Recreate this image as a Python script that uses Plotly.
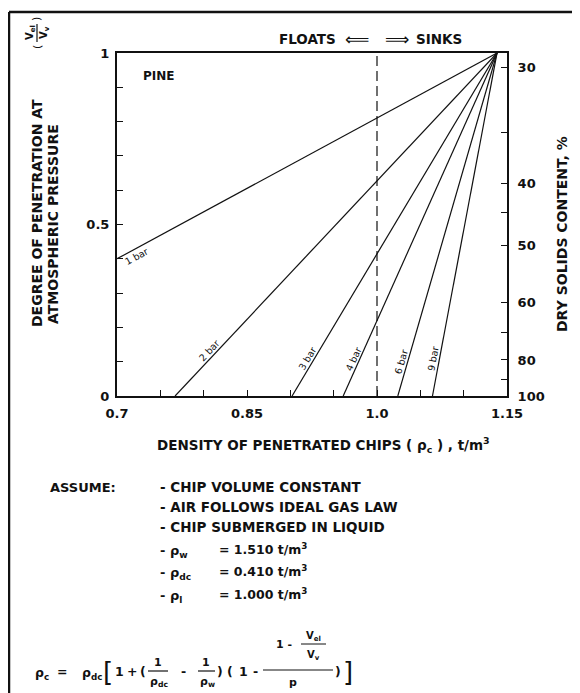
import math
import plotly.graph_objects as go

# ---------------- data ----------------
pressure_labels = ["1 bar", "2 bar", "3 bar", "4 bar", "6 bar", "9 bar"]
line_start_density = [0.700, 0.767, 0.902, 0.961, 1.024, 1.064]
line_start_penetration = [0.40, 0.0, 0.0, 0.0, 0.0, 0.0]
line_end_density = 1.1385
line_end_penetration = 1.0
label_penetration = [0.425, 0.12, 0.10, 0.10, 0.095, 0.105]
label_side = [-7, 6, 6, 6, 6, 6]  # pixel offset of each label from its line (+ = upper-left)

float_sink_density = 1.0

x_tick_values = [0.70, 0.75, 0.80, 0.85, 0.90, 0.95, 1.00, 1.05, 1.10, 1.15]
x_tick_text = ["0.7", "", "", "0.85", "", "", "1.0", "", "", "1.15"]
y_tick_values = [0.0, 0.1, 0.2, 0.3, 0.4, 0.5, 0.6, 0.7, 0.8, 0.9, 1.0]
y_tick_text = ["0", "", "", "", "", "0.5", "", "", "", "", "1"]
dry_solids_positions = [0.959, 0.767, 0.621, 0.536, 0.440, 0.274, 0.184, 0.105, 0.047, 0.0]
dry_solids_text = ["30", "", "40", "", "50", "60", "", "80", "", "100"]

# ---------------- layout geometry (page pixels) ----------------
PAGE_W, PAGE_H = 580, 693
BODY = 8  # default page margin around the plot div
W, H = PAGE_W - BODY, PAGE_H - BODY
PL, PR, PT, PB = 117, 507, 53, 396
FONT = "DejaVu Sans"
INK = "#111111"
X0, X1 = 0.70, 1.15


def px(x):
    return (x - PL) / (PR - PL)


def py(y):
    return (PB - y) / (PB - PT)


annotations = []
shapes = []


def note(x, y, text, size=12, xanchor="center", yanchor="middle", angle=0, weight="bold"):
    annotations.append(dict(
        x=px(x), y=py(y), xref="paper", yref="paper", text=text, showarrow=False,
        xanchor=xanchor, yanchor=yanchor, textangle=angle,
        font=dict(family=FONT, size=size, color=INK, weight=weight)))


def seg(x0, y0, x1, y1, width=1.2):
    shapes.append(dict(type="line", xref="paper", yref="paper",
                       x0=px(x0), y0=py(y0), x1=px(x1), y1=py(y1),
                       line=dict(color=INK, width=width), layer="above"))


fig = go.Figure()

x_scale = (PR - PL) / (X1 - X0)
y_scale = (PB - PT) / 1.0

for name, xs, ys, yl, off in zip(pressure_labels, line_start_density, line_start_penetration,
                                 label_penetration, label_side):
    fig.add_trace(go.Scatter(
        x=[xs, line_end_density], y=[ys, line_end_penetration], mode="lines",
        line=dict(color=INK, width=1.2), showlegend=False, hoverinfo="skip"))
    xl = xs + (yl - ys) / (line_end_penetration - ys) * (line_end_density - xs)
    theta = math.atan2((line_end_penetration - ys) * y_scale, (line_end_density - xs) * x_scale)
    annotations.append(dict(
        x=xl, y=yl, xref="x", yref="y", text=name, showarrow=False,
        textangle=-math.degrees(theta),
        xshift=-off * math.sin(theta), yshift=off * math.cos(theta),
        font=dict(family=FONT, size=9.5, color=INK)))

fig.add_trace(go.Scatter(
    x=[float_sink_density, float_sink_density], y=[0, 1], yaxis="y2", mode="lines",
    line=dict(color=INK, width=1.2, dash="10px,5px"), showlegend=False, hoverinfo="skip"))

axis_common = dict(showgrid=False, zeroline=False, showline=True, linecolor=INK, linewidth=2,
                   ticks="inside", ticklen=6, tickwidth=1.3, tickcolor=INK,
                   tickfont=dict(family=FONT, size=13, color=INK, weight="bold"))

fig.update_layout(
    width=W, height=H, autosize=False,
    margin=dict(l=PL - BODY, r=PAGE_W - PR, t=PT - BODY, b=PAGE_H - PB, pad=0),
    paper_bgcolor="white", plot_bgcolor="white",
    xaxis=dict(range=[X0, X1], tickmode="array", tickvals=x_tick_values, ticktext=x_tick_text,
               mirror=True, ticklabelstandoff=4, **axis_common),
    yaxis=dict(range=[0, 1], tickmode="array", tickvals=y_tick_values, ticktext=y_tick_text,
               ticklabelstandoff=3, **axis_common),
    yaxis2=dict(range=[0, 1], overlaying="y", side="right", tickmode="array",
                tickvals=dry_solids_positions, ticktext=dry_solids_text,
                ticklabelstandoff=6, **axis_common),
    showlegend=False,
)

# outer frame
seg(9, 12, 580, 12, 2.5)
seg(9, 12, 9, 700, 2.5)

# top float / sink note
note(338, 39, "FLOATS", 13.5, xanchor="right")
note(357, 39, "⟸", 17, weight="normal")
note(397, 39, "⟹", 17, weight="normal")
note(414, 39, "SINKS", 13.5, xanchor="left")

note(159, 76, "PINE", 12)

# left axis title
note(37, 329, "DEGREE OF PENETRATION AT", 14, yanchor="bottom", angle=-90)
note(53, 326, "ATMOSPHERIC PRESSURE", 14, yanchor="bottom", angle=-90)
# (Vel / Vv) stacked and rotated
note(30, 33, "V<sub>el</sub>", 10, angle=-90)
note(44, 33, "V<sub>v</sub>", 10, angle=-90)
seg(37, 24, 37, 42, 1.2)
note(37, 47, "(", 11, angle=-90, weight="normal")
note(37, 19, ")", 11, angle=-90, weight="normal")

# right axis title
note(562, 234, "DRY SOLIDS CONTENT, %", 14, angle=-90)

# x axis title
note(155, 445, "DENSITY OF PENETRATED CHIPS ( ρ<sub>c</sub> ) , t/m<sup>3</sup>", 13.5, xanchor="left")

# assumptions block
note(48, 487, "ASSUME:", 13, xanchor="left")
note(158, 487, "- CHIP VOLUME CONSTANT", 13.5, xanchor="left")
note(158, 507, "- AIR FOLLOWS IDEAL GAS LAW", 13.5, xanchor="left")
note(158, 527, "- CHIP SUBMERGED IN LIQUID", 13.5, xanchor="left")
note(158, 551, "- ρ<sub>w</sub>", 13, xanchor="left")
note(217, 549, "= 1.510 t/m<sup>3</sup>", 12.5, xanchor="left")
note(158, 573, "- ρ<sub>dc</sub>", 13, xanchor="left")
note(217, 571, "= 0.410 t/m<sup>3</sup>", 12.5, xanchor="left")
note(158, 596, "- ρ<sub>l</sub>", 13, xanchor="left")
note(217, 594, "= 1.000 t/m<sup>3</sup>", 12.5, xanchor="left")

# formula
note(33, 673, "ρ<sub>c</sub>", 12.5, xanchor="left")
note(62, 671, "=", 12.5)
note(80, 673, "ρ<sub>dc</sub>", 12.5, xanchor="left")
note(108, 672, "[", 26, weight="normal")
note(119, 671, "1", 12.5)
note(132, 671, "+", 12.5)
note(143, 671, "(", 12.5)
note(158, 662, "1", 11)
seg(148, 671, 168, 671, 1.2)
note(159, 682, "ρ<sub>dc</sub>", 11)
note(183, 671, "-", 12.5)
note(206, 662, "1", 11)
seg(198, 671, 215, 671, 1.2)
note(207, 682, "ρ<sub>w</sub>", 11)
note(220, 671, ")", 12.5)
note(230, 671, "(", 12.5)
note(243, 671, "1", 12.5)
note(255, 671, "-", 12.5)
seg(263, 670, 333, 670, 1.2)
note(284, 644, "1 -", 11)
note(313, 636, "V<sub>el</sub>", 10)
seg(301, 644, 326, 644, 1.0)
note(313, 655, "V<sub>v</sub>", 10)
note(293, 682, "p", 11)
note(338, 671, ")", 12.5)
note(348, 672, "]", 26, weight="normal")

fig.update_layout(annotations=annotations, shapes=shapes)
fig.write_html("out.html")
